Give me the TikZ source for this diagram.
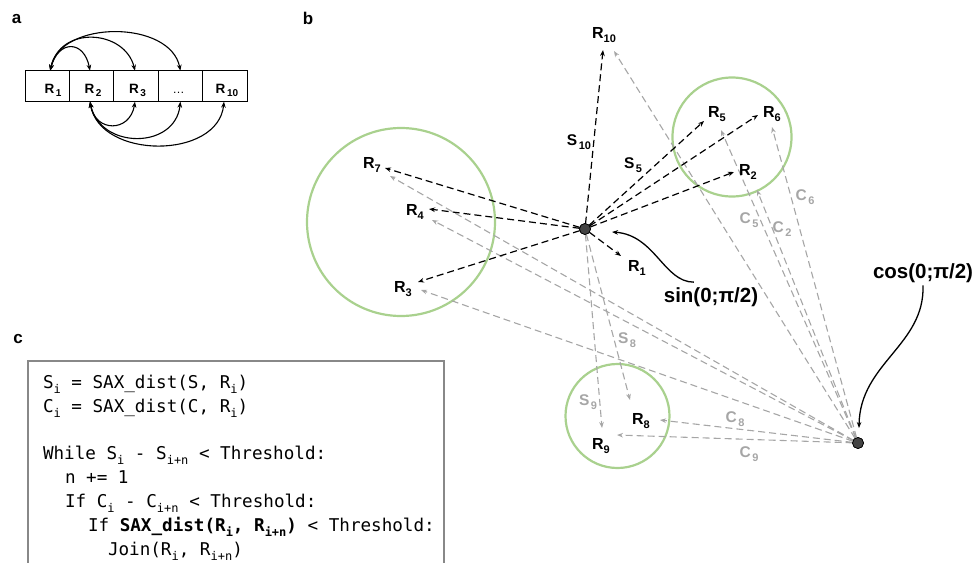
\documentclass[tikz,border=0pt]{standalone}
\usepackage{fontspec}
\setmainfont{Liberation Sans}
\newfontfamily\codefont{DejaVu Sans Mono}
\usetikzlibrary{arrows.meta}
\definecolor{ggreen}{HTML}{A9D18E}
\definecolor{lgray}{HTML}{A6A6A6}
\definecolor{dotfill}{HTML}{444444}
\definecolor{boxgray}{HTML}{888888}
\newcommand{\Rb}[1]{{\fontsize{16}{16}\selectfont\bfseries R}\raisebox{-4.5pt}{\fontsize{11}{11}\selectfont\bfseries #1}}
\newcommand{\Ra}[1]{{\fontsize{13.5}{13.5}\selectfont\bfseries R}\,\raisebox{-3.5pt}{\fontsize{10}{10}\selectfont\bfseries #1}}
\newcommand{\Lb}[2]{{\fontsize{15.5}{15.5}\selectfont\bfseries #1}\hspace{1.5pt}\raisebox{-4.5pt}{\fontsize{11}{11}\selectfont\bfseries #2}}
\newcommand{\csub}[1]{\raisebox{-5.5pt}{\fontsize{12}{12}\selectfont #1}}
\begin{document}
\begin{tikzpicture}[x=1pt,y=-1pt,
  every node/.style={inner sep=0pt, outer sep=0pt},
  >={Stealth[length=6pt,width=4.6pt]},
  abox/.style={draw=black, line width=0.9pt, minimum width=44.4pt, minimum height=31pt},
  arcar/.style={line width=1.1pt, <->},
  blk/.style={draw=black, line width=1.2pt, dash pattern=on 7pt off 4pt, ->},
  gry/.style={draw=lgray, line width=1.1pt, dash pattern=on 7pt off 4pt, ->},
  grn/.style={draw=ggreen, line width=2.2pt},
  dot/.style={circle, fill=dotfill, draw=black, line width=0.7pt, minimum size=11pt},
  plab/.style={font=\fontsize{17}{17}\selectfont\bfseries},
  glab/.style={text=lgray, anchor=base},
  rl/.style={anchor=base},
  code/.style={font=\codefont\fontsize{17.6}{17.6}\selectfont, anchor=base west},
  curvarr/.style={draw=black, line width=1.3pt, ->},
  big/.style={font=\fontsize{20.5}{20.5}\selectfont\bfseries, anchor=base}
]
\useasboundingbox (0,0) rectangle (974,562);

% ---------- panel a ----------
\node[plab] (la) at (16.5,19.5) {a};
\node[abox] (b1) at (47.2,86.2) {};
\node[abox] (b2) at (91.6,86.2) {};
\node[abox] (b3) at (136,86.2) {};
\node[abox] (b4) at (180.4,86.2) {};
\node[abox] (b5) at (224.8,86.2) {};
\node[rl] (a1) at (53,93.4) {\Ra{1}};
\node[rl] (a2) at (93,93.4) {\Ra{2}};
\node[rl] (a3) at (137.5,93.4) {\Ra{3}};
\node[rl] (a4) at (178.5,93.4) {\fontsize{12}{12}\selectfont\ldots};
\node[rl] (a5) at (227,93.4) {\Ra{10}};

\draw[arcar] ([xshift=3pt]b1.north) .. controls +(8,-31) and +(-6,-31) .. ([xshift=-1.6pt]b2.north);
\draw[arcar] ([xshift=3pt]b1.north) .. controls +(10,-46) and +(-10,-41) .. ([xshift=-1pt]b3.north);
\draw[arcar] ([xshift=3pt]b1.north) .. controls +(10,-51) and +(-10,-51) .. (b4.north);
\draw[arcar] ([xshift=-1.6pt]b2.south) .. controls +(5,31) and +(-5,31) .. ([xshift=-1pt]b3.south);
\draw[arcar] ([xshift=-1.6pt]b2.south) .. controls +(10,48) and +(-5,48) .. (b4.south);
\draw[arcar] ([xshift=-1.6pt]b2.south) .. controls +(10,58) and +(-6,58) .. ([xshift=-0.8pt]b5.south);

% ---------- panel b ----------
\node[plab] (lb) at (308,18.5) {b};

\draw[grn] (401,222) circle[radius=94pt];
\draw[grn] (732,137) circle[radius=59.5pt];
\draw[grn] (617.5,416) circle[radius=52pt];

\node[dot] (S) at (585,229) {};
\node[dot] (C) at (858,443) {};

% arrow tip coordinates
\coordinate (s10) at (603,50);
\coordinate (s5) at (704,121);
\coordinate (s6) at (758,115);
\coordinate (s2) at (734,172);
\coordinate (s7) at (385,168);
\coordinate (s4) at (429,209);
\coordinate (s3) at (418,282);
\coordinate (s1) at (621,256);
\coordinate (s8) at (630,400);
\coordinate (s9) at (602,428);
\coordinate (c10) at (614,51);
\coordinate (c5) at (721,130);
\coordinate (c6) at (772,127);
\coordinate (c2) at (757,190);
\coordinate (c7) at (390,176);
\coordinate (c4) at (432,220);
\coordinate (c3) at (421,290);
\coordinate (c8) at (660,420);
\coordinate (c9) at (617,435);

% gray connectors
\foreach \t in {c10,c5,c6,c2,c7,c4,c3,c8,c9} \draw[gry] (C) -- (\t);
\draw[gry] (S) -- (s8);
\draw[gry] (S) -- (s9);
% black connectors
\foreach \t in {s10,s5,s6,s2,s7,s4,s3,s1} \draw[blk] (S) -- (\t);

\node[dot] at (S) {};
\node[dot] at (C) {};

% R labels
\node[rl] (R10) at (604,38) {\Rb{10}};
\node[rl] (R5) at (717,117) {\Rb{5}};
\node[rl] (R6) at (772,117) {\Rb{6}};
\node[rl] (R2) at (748,175) {\Rb{2}};
\node[rl] (R7) at (372,168) {\Rb{7}};
\node[rl] (R4) at (415,215) {\Rb{4}};
\node[rl] (R3) at (403,292) {\Rb{3}};
\node[rl] (R1) at (637,271) {\Rb{1}};
\node[rl] (R8) at (641,424) {\Rb{8}};
\node[rl] (R9) at (601,449) {\Rb{9}};

% S and C labels
\node[rl] (S10) at (579,145) {\Lb{S}{10}};
\node[rl] (S5) at (633,168) {\Lb{S}{5}};
\node[glab] (S8) at (627,343) {\Lb{S}{8}};
\node[glab] (S9) at (588,405) {\Lb{S}{9}};
\node[glab] (C5) at (749,223) {\Lb{C}{5}};
\node[glab] (C2) at (782,232) {\Lb{C}{2}};
\node[glab] (C6) at (805,200) {\Lb{C}{6}};
\node[glab] (C8) at (735,422) {\Lb{C}{8}};
\node[glab] (C9) at (749,457) {\Lb{C}{9}};

% sin / cos
\node[big] (sinl) at (711,302) {sin(0;π/2)};
\node[big] (cosl) at (923,278) {cos(0;π/2)};
\coordinate (sintip) at (612,232);
\coordinate (costip) at (859,428);
\draw[curvarr] ([xshift=30pt,yshift=5pt]sinl.north west) .. controls +(-30,0) and +(43,3) .. (sintip);
\draw[curvarr] ([yshift=-3pt]cosl.south) .. controls +(2,60) and +(1,-65) .. (costip);

% ---------- panel c ----------
\node[plab] (lc) at (18,339.5) {c};
\draw[draw=boxgray, line width=1.2pt] (28,566) -- (28,361) -- (444,361) -- (444,566);
\node[code] (l1) at (43,388) {S\csub{i} = SAX\_dist(S, R\csub{i})};
\node[code] (l2) at (43,412) {C\csub{i} = SAX\_dist(C, R\csub{i})};
\node[code] (l3) at (43,459) {While S\csub{i} - S\csub{i+n} < Threshold:};
\node[code] (l4) at (65,483) {n += 1};
\node[code] (l5) at (65,507) {If C\csub{i} - C\csub{i+n} < Threshold:};
\node[code] (l6) at (88,531) {If \textbf{SAX\_dist(R\csub{i}, R\csub{i+n})} < Threshold:};
\node[code] (l7) at (108,555) {Join(R\csub{i}, R\csub{i+n})};
\end{tikzpicture}
\end{document}
